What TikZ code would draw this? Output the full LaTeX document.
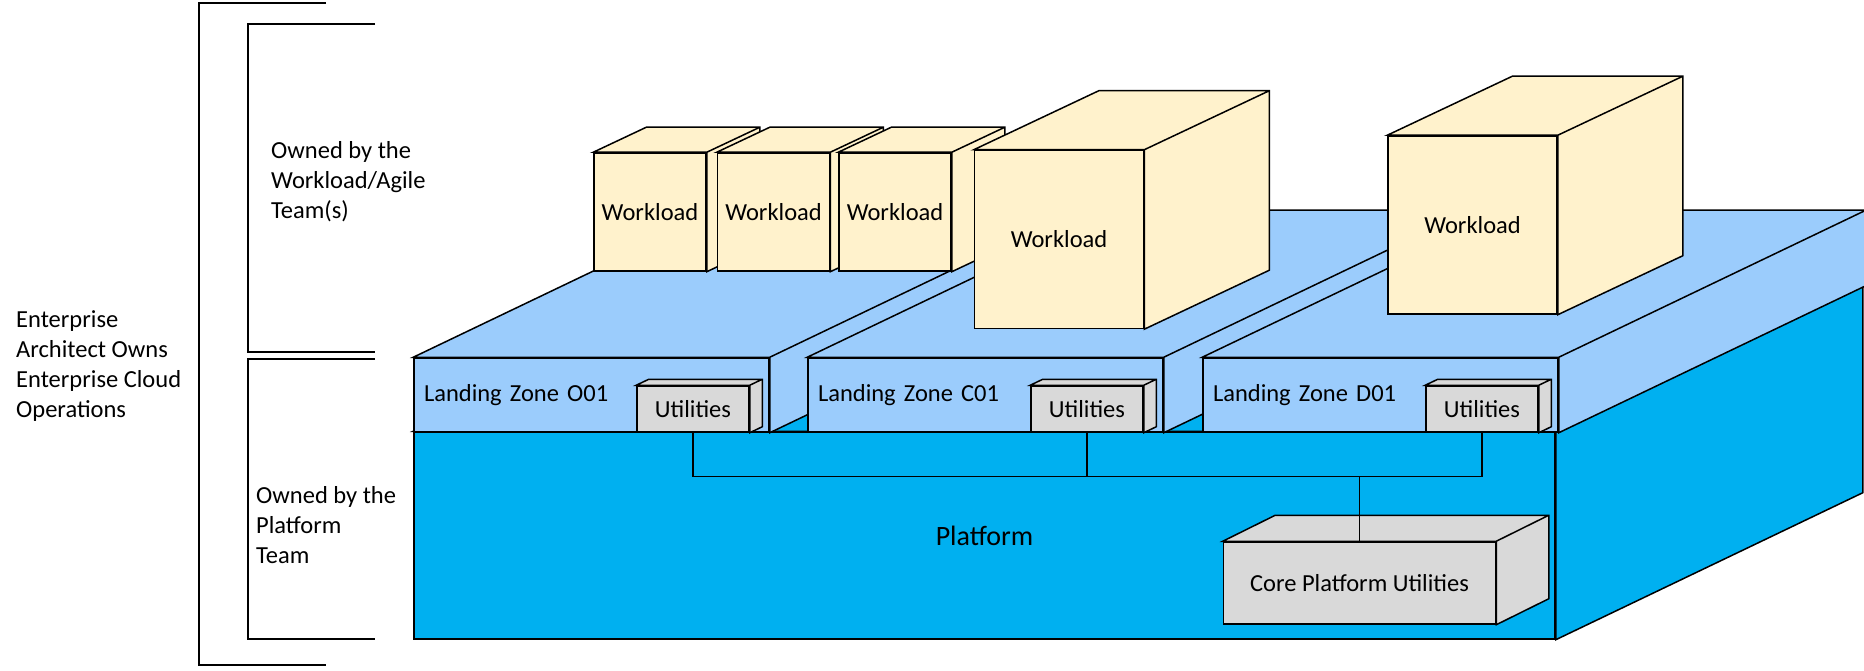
\documentclass[tikz,border=0pt]{standalone}
\usepackage{fontspec}
\setmainfont{Carlito}
\usetikzlibrary{positioning}

\definecolor{lzblue}{RGB}{155,204,252}
\definecolor{platcyan}{RGB}{0,176,240}
\definecolor{wlcream}{RGB}{255,242,204}
\definecolor{utgray}{RGB}{217,217,217}

\tikzset{
  outl/.style={draw=black, line width=1.5pt},
  txt/.style={font=\fontsize{24.5}{30}\selectfont},
  platface/.style={outl, fill=platcyan},
  lzface/.style={outl, fill=lzblue},
  wlface/.style={outl, fill=wlcream},
  utface/.style={outl, fill=utgray},
  platbox/.style={platface, rectangle, minimum width=1141pt, minimum height=207pt, font=\fontsize{28}{34}\selectfont},
  lzbox/.style={lzface, txt, rectangle, text width=335pt, inner xsep=10pt, minimum height=74pt, align=left},
  utbox/.style={utface, txt, rectangle, inner sep=0pt, minimum width=112pt, minimum height=46pt},
  wlsmall/.style={wlface, txt, rectangle, inner sep=0pt, minimum width=112pt, minimum height=118pt},
  wlbig/.style={wlface, txt, rectangle, inner sep=0pt, minimum width=169pt, minimum height=178pt},
  corebox/.style={utface, txt, rectangle, inner sep=0pt, minimum width=272pt, minimum height=82pt},
  note/.style={txt, align=left, inner sep=0pt, anchor=west},
  bracket/.style={draw=black, line width=1.5pt},
  conn/.style={draw=black, line width=1.5pt},
}

% 箱の上面と側面
\newcommand{\boxfaces}[3]{%
  \filldraw[#3] (#1.north west) -- ++#2 -- ([shift={#2}]#1.north east)
    -- ([shift={#2}]#1.south east) -- (#1.south east) -- (#1.north east) -- cycle
    (#1.north east) -- ++#2;}

\begin{document}
\begin{tikzpicture}[x=1pt, y=-1pt]
  \useasboundingbox (0,0) rectangle (1864,671);

  % 括弧と説明
  \draw[bracket] (326,3) -| (199,665) -- (326,665);
  \draw[bracket] (375,24) -| (248,352) -- (375,352);
  \draw[bracket] (375,359) -| (248,639) -- (375,639);
  \node[note] (eaOwns) at (16,366) {Enterprise\\Architect Owns\\Enterprise Cloud\\Operations};
  \node[note] (wlOwns) at (271,182) {Owned by the\\Workload/Agile\\Team(s)};
  \node[note] (pfOwns) at (256,525) {Owned by the\\Platform\\Team};

  % プラットフォーム
  \node[platbox] (plat) at (984.5,535.5) {Platform};
  \boxfaces{plat}{(307,-147)}{platface}

  % ランディングゾーン
  \node[lzbox] (lzO) at (591.5,395) {Landing Zone O01};
  \boxfaces{lzO}{(307,-147)}{lzface}
  \node[utbox, above left=0pt and 20pt of lzO.south east] (utO) {Utilities};
  \boxfaces{utO}{(12.5,-6)}{utface}

  \node[lzbox, right=37.5pt of lzO] (lzC) {Landing Zone C01};
  \boxfaces{lzC}{(307,-147)}{lzface}
  \node[utbox, above left=0pt and 20pt of lzC.south east] (utC) {Utilities};
  \boxfaces{utC}{(12.5,-6)}{utface}

  \node[lzbox, right=38.5pt of lzC] (lzD) {Landing Zone D01};
  \boxfaces{lzD}{(307,-147)}{lzface}
  \node[utbox, above left=0pt and 20pt of lzD.south east] (utD) {Utilities};
  \boxfaces{utD}{(12.5,-6)}{utface}

  % ワークロード
  \node[wlsmall] (wl1) at (650,212) {Workload};
  \boxfaces{wl1}{(53,-25)}{wlface}
  \node[wlsmall, right=10pt of wl1] (wl2) {Workload};
  \boxfaces{wl2}{(53,-25)}{wlface}
  \node[wlsmall, right=8pt of wl2] (wl3) {Workload};
  \boxfaces{wl3}{(53,-25)}{wlface}
  \node[wlbig] (wl4) at (1059,239.5) {Workload};
  \boxfaces{wl4}{(125,-59)}{wlface}
  \node[wlbig] (wl5) at (1472.5,225) {Workload};
  \boxfaces{wl5}{(125,-59)}{wlface}

  % コアユーティリティ
  \node[corebox] (core) at (1359.5,583) {Core Platform Utilities};
  \boxfaces{core}{(52.5,-26)}{utface}

  % 接続線
  \coordinate (bus) at (0,476.5);
  \draw[conn] (utO.south) |- (bus -| utD.south) -- (utD.south);
  \draw[conn] (utC.south) -- (utC.south |- bus);
  \draw[conn] (core.north) -- (core.north |- bus);
\end{tikzpicture}
\end{document}
